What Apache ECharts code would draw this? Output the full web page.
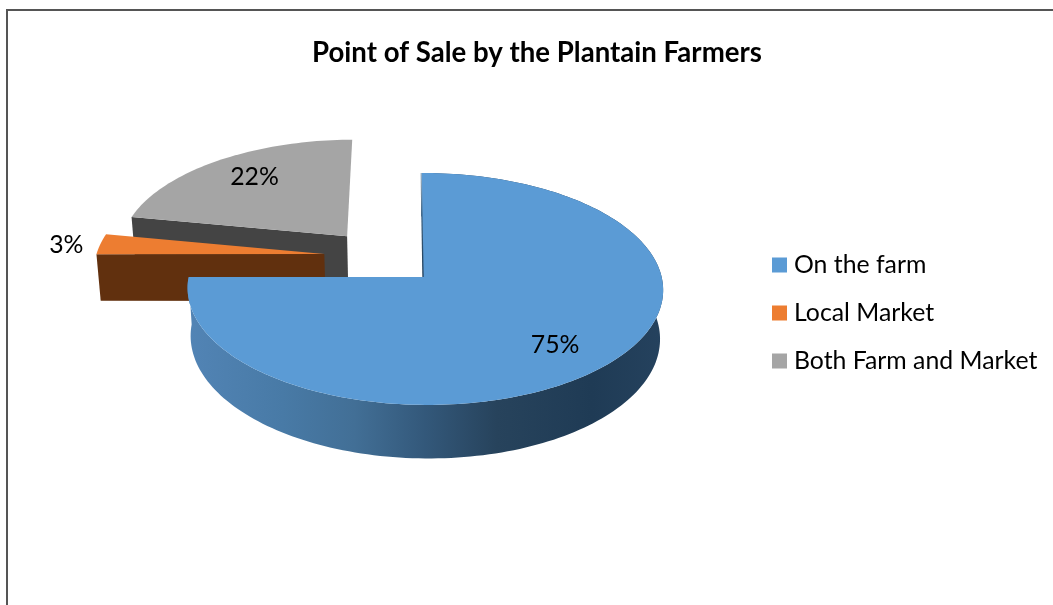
<!DOCTYPE html>
<html>
<head>
<meta charset="utf-8">
<style>html,body{margin:0;padding:0;background:#fff}#chart{width:1053px;height:605px}</style>
<script src="https://cdn.jsdelivr.net/npm/echarts@6/dist/echarts.min.js"></script>
</head>
<body>
<div id="chart"></div>
<script>
const titleText = 'Point of Sale by the Plantain Farmers';
const categories = ['On the farm', 'Local Market', 'Both Farm and Market'];
const shares = [75, 3, 22];
const topColors = ['#5b9bd5', '#ed7d31', '#a5a5a5'];
const wallColors = ['#34597c', '#61300e', '#444444'];

// Projection of the tilted disc onto the canvas
const view = { ox: 423, oy: 277, rx: 236.5, ry: 114.7, k: 0.1034, m: 0.009, skew: 2, depth: 48, shrink: 0.987 };
// Pull-out of each slice from the pie centre, in disc units
const explode = [[0, 0], [-0.426, -0.205], [-0.331, -0.371]];
// Label distance from the slice apex (disc units) and turn away from its bisector (degrees)
const labelRadius = [0.76, 1.15, 0.745];
const labelTurn = [1.9, -1, 2.5];

function project(wx, wy, lower) {
  const d = 1 - view.k * wy - view.m * wx;
  let x = (view.rx * wx + view.skew * wy) / d;
  let y = view.ry * wy / d;
  if (lower) { x *= view.shrink; y += view.depth / d; }
  return [view.ox + x, view.oy + y];
}

const total = shares.reduce((a, b) => a + b, 0);
function sliceRange(i) {
  const before = shares.slice(0, i).reduce((a, b) => a + b, 0);
  return [before / total * Math.PI * 2, (before + shares[i]) / total * Math.PI * 2];
}

function arcPoints(i, from, to, lower) {
  const [ex, ey] = explode[i];
  const n = Math.max(2, Math.ceil((to - from) * 40));
  const pts = [];
  for (let s = 0; s <= n; s++) {
    const t = from + (to - from) * s / n;
    pts.push(project(ex + Math.sin(t), ey - Math.cos(t), lower));
  }
  return pts;
}

const blueWall = new echarts.graphic.LinearGradient(188, 0, 663, 0, [
  { offset: 0, color: '#5284b5' },
  { offset: 0.2, color: '#487aa6' },
  { offset: 0.35, color: '#426f96' },
  { offset: 0.5, color: '#33587a' },
  { offset: 0.65, color: '#27435c' },
  { offset: 0.85, color: '#1f3b55' },
  { offset: 1, color: '#25425e' }
], true);

const cutEdge = new echarts.graphic.LinearGradient(0, 173, 0, 277, [
  { offset: 0, color: '#9fb4c6' },
  { offset: 0.4, color: '#3d6384' },
  { offset: 1, color: '#1f3b55' }
], true);

function renderSlice(params, api) {
  const i = params.seriesIndex;
  const [a0, a1] = sliceRange(i);
  const [ex, ey] = explode[i];
  const apexTop = project(ex, ey, false);
  const apexLow = project(ex, ey, true);
  const topArc = arcPoints(i, a0, a1, false);
  const children = [];

  if (i === 0) {
    const lowArc = arcPoints(i, a0, a1, true).reverse();
    children.push({ type: 'polygon', shape: { points: topArc.concat(lowArc) }, style: { fill: blueWall } });
  } else {
    // Cut face below the first radial edge of the pulled-out slice
    const startTop = topArc[0];
    const startLow = project(ex + Math.sin(a0), ey - Math.cos(a0), true);
    children.push({ type: 'polygon', shape: { points: [startTop, apexTop, apexLow, startLow] }, style: { fill: wallColors[i] } });
  }

  children.push({ type: 'polygon', shape: { points: [apexTop].concat(topArc) }, style: { fill: topColors[i] } });

  if (i === 0) {
    children.push({ type: 'polyline', shape: { points: [topArc[0], apexTop] }, style: { stroke: cutEdge, lineWidth: 1.3, fill: null } });
  }

  const mid = (a0 + a1) / 2 + labelTurn[i] * Math.PI / 180;
  const pos = project(ex + labelRadius[i] * Math.sin(mid), ey - labelRadius[i] * Math.cos(mid), false);
  children.push({
    type: 'text',
    style: {
      x: pos[0], y: pos[1], text: api.value(0) + '%',
      fill: '#000', fontFamily: 'Lato', fontSize: 24.8, align: 'center', verticalAlign: 'middle'
    }
  });
  return { type: 'group', children };
}

const chart = echarts.init(document.getElementById('chart'), null, { renderer: 'canvas' });
chart.setOption({
  animation: false,
  backgroundColor: '#fff',
  title: {
    text: titleText, left: 312, top: 39, padding: 0,
    textStyle: { fontFamily: 'Lato', fontSize: 27.6, fontWeight: 'bold', color: '#000' }
  },
  legend: {
    orient: 'vertical', left: 772, top: 252.5, padding: 0, icon: 'rect',
    itemWidth: 15, itemHeight: 15, itemGap: 23, data: categories,
    textStyle: { fontFamily: 'Lato', fontSize: 24.8, lineHeight: 24, color: '#000', padding: [0, 0, 0, 2] }
  },
  graphic: [{
    type: 'polyline', silent: true,
    shape: { points: [[7, 605], [7, 10], [1053, 10]] },
    style: { stroke: '#555555', lineWidth: 2, fill: null }
  }],
  series: categories.map((name, i) => ({
    type: 'custom', name, coordinateSystem: 'none', renderItem: renderSlice,
    z: 3 - i, silent: true, itemStyle: { color: topColors[i] },
    data: [shares[i]]
  }))
});
</script>
</body>
</html>
